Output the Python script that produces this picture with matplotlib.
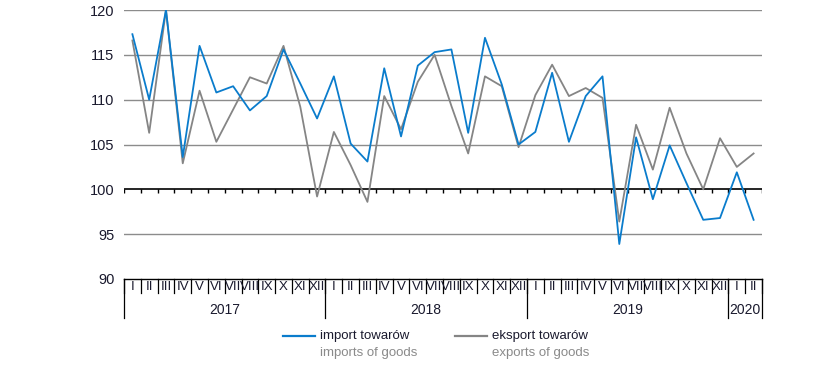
import matplotlib
matplotlib.use('Agg')
import matplotlib.pyplot as plt
from matplotlib.lines import Line2D

plt.rcParams['font.family'] = ['Liberation Sans Narrow', 'Liberation Sans', 'DejaVu Sans']

# Monthly index values, Jan 2017 - Feb 2020
months = ['I', 'II', 'III', 'IV', 'V', 'VI', 'VII', 'VIII', 'IX', 'X', 'XI', 'XII'] * 3 + ['I', 'II']
years = ['2017', '2018', '2019', '2020']
year_lengths = [12, 12, 12, 2]

imports = [117.3, 110.0, 120.0, 103.6, 116.0, 110.8, 111.5, 108.8, 110.4, 115.6, 111.8, 107.9,
           112.6, 105.1, 103.1, 113.5, 105.9, 113.8, 115.3, 115.6, 106.3, 116.9, 111.7, 105.0,
           106.4, 113.0, 105.3, 110.4, 112.6, 93.9, 105.8, 98.9, 104.9, 100.7, 96.6, 96.8,
           101.9, 96.6]
exports = [116.6, 106.3, 120.0, 102.9, 111.0, 105.3, 108.9, 112.5, 111.8, 116.0, 109.2, 99.2,
           106.4, 102.7, 98.6, 110.4, 106.7, 112.0, 115.0, 109.3, 104.0, 112.6, 111.5, 104.7,
           110.5, 113.9, 110.4, 111.3, 110.2, 96.4, 107.2, 102.2, 109.1, 104.0, 100.0, 105.7,
           102.5, 104.0]

blue = '#0a7ccc'
grey = '#858585'
text_col = '#1a1a2e'

fig = plt.figure(figsize=(8.36, 3.83), dpi=100)
ax = fig.add_axes([124 / 836, 1 - 279 / 383, 638 / 836, 269 / 383])

n = len(months)
x = list(range(n))

# Gridlines
for v in [95, 105, 110, 115, 120]:
    ax.axhline(v, color='#8c8c8c', lw=1, zorder=1)

# Axis line at 100 with small ticks at month boundaries
ax.axhline(100, color='black', lw=1.2, zorder=3)
ax.vlines([i - 0.5 for i in range(n + 1)], 99.55, 100, color='black', lw=1, zorder=3)

ax.plot(x, exports, color=grey, lw=1.3, zorder=4)
ax.plot(x, imports, color=blue, lw=1.3, zorder=5)

ax.set_xlim(-0.5, n - 0.5)
ax.set_ylim(90, 120)
ax.set_yticks([90, 95, 100, 105, 110, 115, 120])
ax.tick_params(axis='y', length=0, pad=7, labelsize=10.5, labelcolor=text_col)
ax.set_xticks([])
for s in ax.spines.values():
    s.set_visible(False)

# Category table below the plot
ax.plot([-0.5, n - 0.5], [90, 90], color='black', lw=1, clip_on=False)
for i in range(n + 1):
    ax.plot([i - 0.5, i - 0.5], [90, 88.45], color='black', lw=0.9, clip_on=False)
for i, m in enumerate(months):
    ax.text(i, 89.15, m, ha='center', va='center', fontsize=9.5, color=text_col, clip_on=False)

start = 0
for yr, ln in zip(years, year_lengths):
    ax.plot([start - 0.5, start - 0.5], [90, 85.6], color='black', lw=0.9, clip_on=False)
    ax.text(start - 0.5 + ln / 2, 86.55, yr, ha='center', va='center', fontsize=10,
            color=text_col, clip_on=False)
    start += ln
ax.plot([n - 0.5, n - 0.5], [90, 85.6], color='black', lw=0.9, clip_on=False)

# Legend drawn by hand (two-coloured labels)
y1 = 1 - 336 / 383
y2 = 1 - 353 / 383
fig.add_artist(Line2D([283 / 836, 315 / 836], [y1, y1], color=blue, lw=1.6))
fig.text(320 / 836, y1, 'import towarów', va='center', fontsize=9.5, color=text_col)
fig.text(320 / 836, y2, 'imports of goods', va='center', fontsize=9.5, color='#8a8a8a')
fig.add_artist(Line2D([455 / 836, 487 / 836], [y1, y1], color=grey, lw=1.6))
fig.text(492 / 836, y1, 'eksport towarów', va='center', fontsize=9.5, color=text_col)
fig.text(492 / 836, y2, 'exports of goods', va='center', fontsize=9.5, color='#8a8a8a')

fig.savefig('out.png', dpi=100)
